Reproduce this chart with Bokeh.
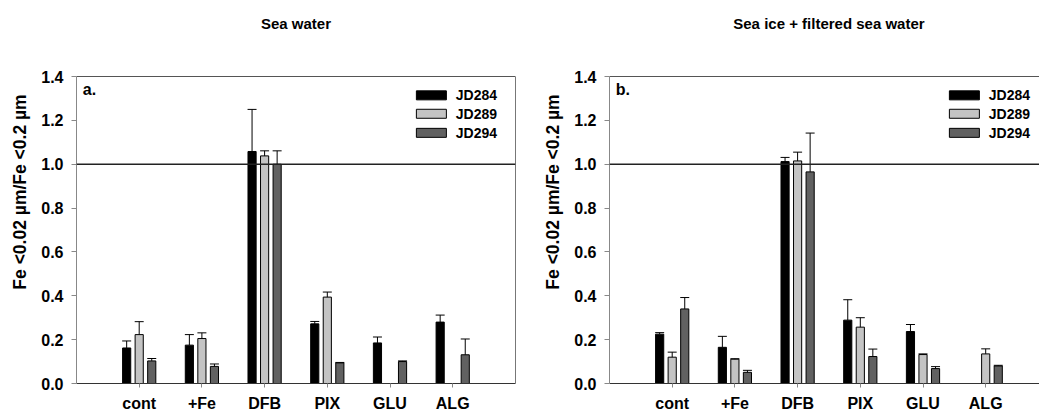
from bokeh.plotting import figure
from bokeh.models import (Range1d, FixedTicker, Span, Whisker, TeeHead,
                          ColumnDataSource, Label, PrintfTickFormatter,
                          LinearAxis)
from bokeh.layouts import row
from bokeh.embed import file_html
from bokeh.resources import INLINE
from bokeh.core.properties import value

# ---------------- data ----------------
categories = ["cont", "+Fe", "DFB", "PIX", "GLU", "ALG"]
series = ["JD284", "JD289", "JD294"]
colors = ["#000000", "#c4c4c4", "#616161"]
y_ticks = [0.0, 0.2, 0.4, 0.6, 0.8, 1.0, 1.2, 1.4]

# Panel a: Sea water  (mean, upper error)
sw_jd284 = [0.162, 0.175, 1.058, 0.272, 0.185, 0.280]
sw_jd284_err = [0.032, 0.048, 0.192, 0.011, 0.027, 0.032]
sw_jd289 = [0.223, 0.205, 1.038, 0.394, None, None]
sw_jd289_err = [0.059, 0.026, 0.023, 0.023, None, None]
sw_jd294 = [0.103, 0.078, 1.000, 0.094, 0.100, 0.131]
sw_jd294_err = [0.011, 0.011, 0.061, 0.002, 0.003, 0.072]

# Panel b: Sea ice + filtered sea water
si_jd284 = [0.225, 0.165, 1.012, 0.289, 0.237, None]
si_jd284_err = [0.007, 0.050, 0.019, 0.093, 0.032, None]
si_jd289 = [0.120, 0.111, 1.015, 0.257, 0.132, 0.135]
si_jd289_err = [0.023, 0.002, 0.040, 0.043, 0.003, 0.023]
si_jd294 = [0.340, 0.051, 0.965, 0.123, 0.068, 0.080]
si_jd294_err = [0.052, 0.009, 0.177, 0.034, 0.009, 0.003]

FONT = "Liberation Sans"
offsets = [-0.2, 0.0, 0.2]
BAR_W = 0.13
PX_PER_UNIT = 62.7
Y_MAX = 1.4
FRAME_H = 383           # full drawing area height (px)
AXIS_TOP_PX = 76        # px from top where the 1.4 tick sits
Y_END = Y_MAX * FRAME_H / (FRAME_H - AXIS_TOP_PX)
PX_PER_Y = FRAME_H / Y_END


def make_panel(title, letter, vals, errs, width, left, right, frame_w,
               boxed):
    x_end = frame_w / PX_PER_UNIT
    p = figure(width=width, height=414, output_backend="svg",
               toolbar_location=None, x_range=Range1d(0, x_end),
               y_range=Range1d(0, Y_END), title=None,
               min_border_left=left, min_border_right=right,
               min_border_top=0, min_border_bottom=31)
    p.background_fill_color = "white"
    p.border_fill_color = "white"
    p.outline_line_color = None
    p.xgrid.visible = False
    p.ygrid.visible = False

    # top border of the axes box
    p.add_layout(Span(location=Y_MAX, dimension="width",
                      line_color="#555555", line_width=1))

    # title text above the axes box
    p.text(x=[3.5], y=[Y_MAX + (AXIS_TOP_PX - 23) / PX_PER_Y], text=[title],
           text_font=value(FONT), text_font_style="bold",
           text_font_size="15px", text_align="center",
           text_baseline="middle", text_color="black")

    # left axis
    yax = p.yaxis[0]
    yax.bounds = (0, Y_MAX)
    yax.ticker = FixedTicker(ticks=y_ticks)
    yax.formatter = PrintfTickFormatter(format="%.1f")
    yax.axis_label = "Fe <0.02 µm/Fe <0.2 µm"
    yax.axis_label_text_font = FONT
    yax.axis_label_text_font_style = "bold"
    yax.axis_label_text_font_size = "17.5px"
    yax.axis_label_text_color = "black"
    yax.axis_label_standoff = 8
    yax.axis_line_color = "#888888"
    yax.major_tick_line_color = "#888888"
    yax.major_tick_out = 5
    yax.major_tick_in = 0
    yax.minor_tick_line_color = None
    yax.major_label_standoff = 8

    # bottom axis
    xax = p.xaxis[0]
    xax.ticker = FixedTicker(ticks=[i + 1 for i in range(len(categories))])
    xax.major_label_overrides = {i + 1: c for i, c in enumerate(categories)}
    xax.axis_line_color = "#333333"
    xax.major_tick_line_color = "#888888"
    xax.major_tick_out = 4
    xax.major_tick_in = 0
    xax.minor_tick_line_color = None
    xax.major_label_standoff = 7

    for ax in (xax, yax):
        ax.major_label_text_font = FONT
        ax.major_label_text_font_style = "bold"
        ax.major_label_text_font_size = "16px"
        ax.major_label_text_color = "black"

    # right border of the axes box (panel a only; panel b is cut off)
    if boxed:
        right_ax = LinearAxis(bounds=(0, Y_MAX), ticker=FixedTicker(ticks=[]),
                              axis_line_color="#777777",
                              major_tick_line_color=None,
                              minor_tick_line_color=None,
                              major_label_text_font_size="1px")
        p.add_layout(right_ax, "right")

    # reference line at 1.0
    p.add_layout(Span(location=1.0, dimension="width", line_color="#222222",
                      line_width=1.6))

    # bars + error bars
    for v, e, col, off in zip(vals, errs, colors, offsets):
        xs, tops, lows, ups = [], [], [], []
        for i, (val, err) in enumerate(zip(v, e)):
            if val is None:
                continue
            xs.append(i + 1 + off)
            tops.append(val)
            lows.append(val)
            ups.append(val + err)
        src = ColumnDataSource(dict(x=xs, top=tops, lower=lows, upper=ups))
        p.add_layout(Whisker(base="x", lower="lower", upper="upper",
                             source=src, line_color="black", line_width=1,
                             upper_head=TeeHead(size=9, line_color="black",
                                                line_width=1),
                             lower_head=None, level="glyph"))
        p.vbar(x="x", top="top", bottom=0, width=BAR_W, source=src,
               fill_color=col, line_color="black", line_width=1)

    # panel letter
    p.add_layout(Label(x=0.1, y=1.378, text=letter, text_font=FONT,
                       text_font_style="bold", text_font_size="16px",
                       text_baseline="top", text_color="black"))

    # legend (manual)
    legend_x = 5.66
    leg_y = [1.314, 1.230, 1.143]
    p.rect(x=[legend_x] * 3, y=leg_y, width=30, height=9,
           width_units="screen", height_units="screen",
           fill_color=colors, line_color="black", line_width=1)
    p.text(x=[legend_x + 0.39] * 3, y=leg_y, text=series,
           text_font=value(FONT), text_font_style="bold",
           text_font_size="14px", text_baseline="middle", text_color="black")
    return p


pa = make_panel("Sea water", "a.",
                [sw_jd284, sw_jd289, sw_jd294],
                [sw_jd284_err, sw_jd289_err, sw_jd294_err],
                width=530, left=76, right=15, frame_w=439, boxed=True)
pb = make_panel("Sea ice + filtered sea water", "b.",
                [si_jd284, si_jd289, si_jd294],
                [si_jd284_err, si_jd289_err, si_jd294_err],
                width=509, left=79, right=0, frame_w=430, boxed=False)

layout = row(pa, pb)
open("out.html", "w").write(file_html(layout, INLINE))
